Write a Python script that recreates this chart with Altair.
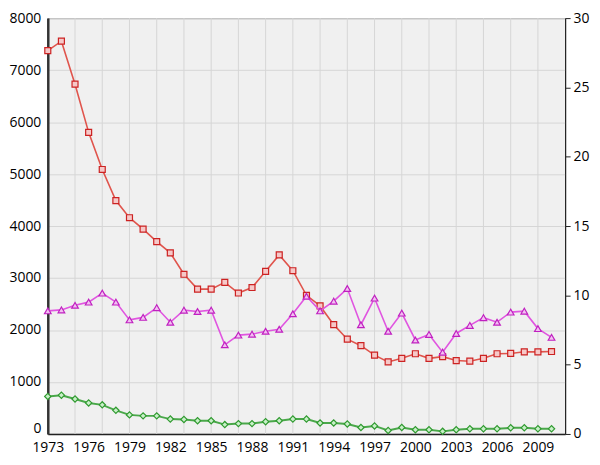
import altair as alt
import pandas as pd

years = list(range(1973, 2011))
red = [7375, 7556, 6729, 5802, 5088, 4490, 4160, 3940, 3700, 3483, 3072, 2786,
       2786, 2917, 2711, 2817, 3128, 3445, 3140, 2668, 2463, 2103, 1823, 1698, 1517,
       1386, 1455, 1543, 1455, 1487, 1412, 1400, 1455, 1543, 1549, 1580, 1580, 1586]
magenta = [8.88, 8.95, 9.28, 9.51, 10.16, 9.51, 8.23, 8.41, 9.11, 8.06, 8.93, 8.83,
           8.93, 6.43, 7.13, 7.20, 7.41, 7.55, 8.67, 9.93, 8.88, 9.58, 10.49, 7.88, 9.8,
           7.41, 8.72, 6.78, 7.18, 5.9, 7.25, 7.83, 8.39, 8.06, 8.79, 8.86, 7.6, 6.97]
green = [722, 746, 672, 597, 560, 454, 367, 348, 348, 286, 280, 255,
         255, 180, 199, 199, 236, 255, 286, 286, 211, 211, 193, 124, 155,
         68, 124, 81, 81, 50, 81, 99, 99, 99, 118, 118, 99, 99]
label_years = list(range(1973, 2010, 3))
grid_years = list(range(1975, 2011, 2))
left_ticks = list(range(0, 8001, 1000))
right_ticks = list(range(0, 31, 5))

df = pd.DataFrame({"year": years, "red": red, "magenta": magenta, "green": green})
gdf = pd.DataFrame({"year": grid_years})

xscale = alt.Scale(domain=[1973, 2011], nice=False, zero=False)
xaxis = alt.Axis(values=label_years, format="d", grid=False, ticks=False, title=None,
                 labelPadding=7, labelOverlap=False, labelFlush=False,
                 domainColor="#222", domainWidth=1.5)
yl_scale = alt.Scale(domain=[0, 8000], nice=False)
yl_axis = alt.Axis(values=left_ticks, format="d", grid=True, gridColor="#d6d6d6",
                   title=None, ticks=False, labelPadding=7, labelOverlap=False,
                   labelOffset=alt.ExprRef("datum.value == 0 ? -5 : 0"),
                   domainColor="#333", domainWidth=2.5)
yr_scale = alt.Scale(domain=[0, 30], nice=False)
yr_axis = alt.Axis(values=right_ticks, format="d", grid=False, title=None,
                   orient="right", ticks=True, tickSize=5, tickColor="#222",
                   labelPadding=3, labelOverlap=False, domainColor="#222")

X = alt.X("year:Q", scale=xscale, axis=xaxis)

vgrid = alt.Chart(gdf).mark_rule(color="#d6d6d6", strokeWidth=1).encode(
    x=alt.X("year:Q", scale=xscale, axis=xaxis))

base = alt.Chart(df)
red_line = base.mark_line(color="#e0544c", strokeWidth=1.6).encode(
    x=X, y=alt.Y("red:Q", scale=yl_scale, axis=yl_axis))
red_pts = base.mark_point(shape="square", size=36, filled=True, fill="#f6c8c8",
                          stroke="#cc2222", strokeWidth=1.2, opacity=1).encode(
    x=X, y=alt.Y("red:Q", scale=yl_scale, axis=yl_axis))
green_line = base.mark_line(color="#4aa84a", strokeWidth=2).encode(
    x=X, y=alt.Y("green:Q", scale=yl_scale, axis=yl_axis))
green_pts = base.mark_point(shape="diamond", size=40, filled=True, fill="#c8efc8",
                            stroke="#2f9a2f", strokeWidth=1.2, opacity=1).encode(
    x=X, y=alt.Y("green:Q", scale=yl_scale, axis=yl_axis))

left = alt.layer(vgrid, red_line, red_pts, green_line, green_pts)

mag_line = base.mark_line(color="#e055e0", strokeWidth=1.6).encode(
    x=X, y=alt.Y("magenta:Q", scale=yr_scale, axis=yr_axis))
mag_pts = base.mark_point(shape="triangle-up", size=45, filled=True, fill="#f2c0f2",
                          stroke="#c020c0", strokeWidth=1.2, opacity=1).encode(
    x=X, y=alt.Y("magenta:Q", scale=yr_scale, axis=yr_axis))
right = alt.layer(mag_line, mag_pts)

chart = alt.layer(left, right).resolve_scale(y="independent").properties(
    width=520, height=418,
    padding={"left": 0, "right": 2, "top": 2, "bottom": 0},
    background="white",
).configure_view(
    fill="#f0f0f0", stroke="#222", strokeWidth=1
).configure_axis(
    labelFont="Open Sans", labelFontSize=14, labelColor="black"
)

chart.save("out.html", embed_options={"renderer": "svg", "actions": False})
